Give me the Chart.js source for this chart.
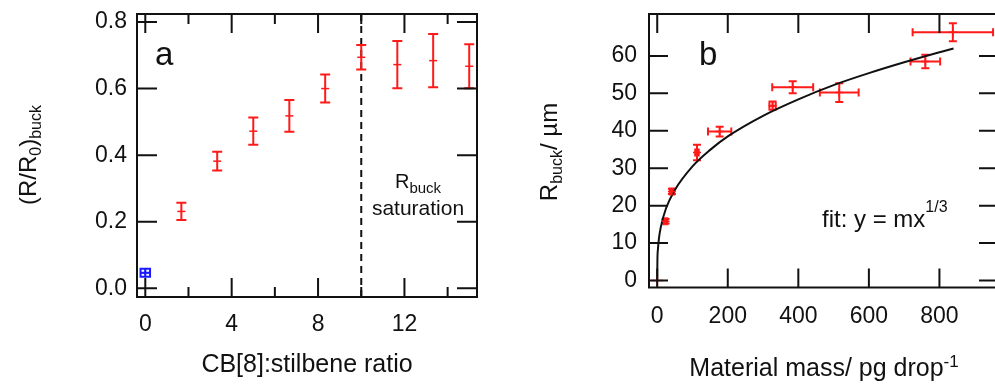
<!DOCTYPE html>
<html><head><meta charset="utf-8">
<script src="https://cdn.jsdelivr.net/npm/chart.js@4/dist/chart.umd.min.js"></script>
<style>
html,body{margin:0;padding:0;width:995px;height:385px;overflow:hidden;background:#fff;}
#wa{position:absolute;left:0;top:0;width:500px;height:385px;}
#wb{position:absolute;left:500px;top:0;width:510px;height:385px;}
</style></head><body>
<div id="wa"><canvas id="ca" width="500" height="385"></canvas></div>
<div id="wb"><canvas id="cb" width="510" height="385"></canvas></div>
<script>
// ---------- Panel a data ----------
const ratioX    = [1.67, 3.33, 5.0, 6.67, 8.33, 10.0, 11.67, 13.33, 15.0];
const ratioY    = [0.231, 0.382, 0.472, 0.518, 0.600, 0.694, 0.672, 0.684, 0.667];
const ratioYErr = [0.026, 0.028, 0.041, 0.048, 0.042, 0.037, 0.071, 0.080, 0.066];
const controlX    = [0];
const controlY    = [0.047];
const controlXErr = [0.22];
const controlYErr = [0.012];
const saturationRatio = 10;
const aXTicks      = [0, 4, 8, 12];
const aXMinorTicks = [2, 6, 10, 14];
const aYTicks      = [0, 0.2, 0.4, 0.6, 0.8];

// ---------- Panel b data ----------
const massX    = [0, 23.6, 41.7, 112.7, 177, 327, 384, 516, 760, 838];
const massY    = [0, 15.8, 23.8, 34.2, 39.8, 46.7, 51.6, 50.2, 58.5, 66.3];
const massXErr = [0, 5, 6, 5, 33, 9, 58, 55, 42, 114];
const massYErr = [0, 0.6, 0.7, 2.1, 1.3, 1.1, 1.6, 2.5, 1.8, 2.4];
const fitX = [0, 0.5, 2, 5, 10, 25, 50, 100, 150, 200, 300, 400, 500, 600, 700, 800, 840];
const fitY = [0, 5.2, 8.3, 11.3, 14.2, 19.3, 24.2, 30.5, 34.9, 38.5, 44.0, 48.4, 52.2, 55.4, 58.3, 61.0, 62.0];
const bXTicks = [0, 200, 400, 600, 800];
const bYTicks = [0, 10, 20, 30, 40, 50, 60];

// ---------- helpers ----------
const FONT = '"Liberation Sans", Arial, Helvetica, sans-serif';
const TXT = '#111';
const RED = '#ff1a1a';
const BLUE = '#1a1aff';
Chart.defaults.font.family = FONT;
Chart.defaults.color = TXT;

function richText(ctx, parts, x, y, opt) {
  opt = opt || {};
  ctx.save();
  ctx.translate(x, y);
  if (opt.rotate) ctx.rotate(-Math.PI / 2);
  let total = 0;
  parts.forEach(p => { ctx.font = p.size + 'px ' + FONT; p.w = ctx.measureText(p.t).width; total += p.w; });
  let cx = opt.align === 'left' ? 0 : -total / 2;
  ctx.textBaseline = 'alphabetic';
  ctx.textAlign = 'left';
  ctx.fillStyle = TXT;
  parts.forEach(p => { ctx.font = p.size + 'px ' + FONT; ctx.fillText(p.t, cx, p.dy || 0); cx += p.w; });
  ctx.restore();
}

function drawFrame(chart, s) {
  const {ctx, chartArea: a, scales} = chart;
  ctx.save();
  ctx.strokeStyle = TXT; ctx.lineWidth = 2; ctx.lineCap = 'butt';
  ctx.beginPath();
  const ln = (x1, y1, x2, y2) => { ctx.moveTo(x1, y1); ctx.lineTo(x2, y2); };
  s.xMajor.forEach(v => { const p = scales.x.getPixelForValue(v);
    ln(p, a.bottom, p, a.bottom - s.xLen); ln(p, a.top, p, a.top + s.xLen); });
  (s.xMinor || []).forEach(v => { const p = scales.x.getPixelForValue(v);
    ln(p, a.bottom, p, a.bottom - s.xMinLen); ln(p, a.top, p, a.top + s.xMinLen); });
  s.yMajor.forEach(v => { const p = scales.y.getPixelForValue(v);
    ln(a.left, p, a.left + s.yLen, p); ln(a.right, p, a.right - s.yLen, p); });
  ctx.stroke();
  ctx.strokeRect(a.left, a.top, a.right - a.left, a.bottom - a.top);
  ctx.restore();
}

function drawErrors(chart, dsIndex, color, cap) {
  const {ctx, chartArea: a, scales} = chart;
  const data = chart.data.datasets[dsIndex].data;
  ctx.save();
  ctx.beginPath(); ctx.rect(a.left, a.top, a.right - a.left, a.bottom - a.top); ctx.clip();
  ctx.strokeStyle = color; ctx.lineWidth = 2;
  ctx.beginPath();
  data.forEach(d => {
    const px = scales.x.getPixelForValue(d.x), py = scales.y.getPixelForValue(d.y);
    if (d.ye) {
      const y1 = scales.y.getPixelForValue(d.y - d.ye), y2 = scales.y.getPixelForValue(d.y + d.ye);
      ctx.moveTo(px, y1); ctx.lineTo(px, y2);
      ctx.moveTo(px - cap, y1); ctx.lineTo(px + cap, y1);
      ctx.moveTo(px - cap, y2); ctx.lineTo(px + cap, y2);
    }
    if (d.xe) {
      const x1 = scales.x.getPixelForValue(d.x - d.xe), x2 = scales.x.getPixelForValue(d.x + d.xe);
      ctx.moveTo(x1, py); ctx.lineTo(x2, py);
      ctx.moveTo(x1, py - cap); ctx.lineTo(x1, py + cap);
      ctx.moveTo(x2, py - cap); ctx.lineTo(x2, py + cap);
    }
  });
  ctx.stroke();
  ctx.restore();
}

const tickFont = {size: 23};
const noGrid = {display: false, drawTicks: false};
function fixBox(s, w, h) {
  if (w !== undefined) s.width = w;
  if (h !== undefined) s.height = h;
  s.paddingTop = 0; s.paddingBottom = 0; s.paddingLeft = 0; s.paddingRight = 0;
}

// ---------- Panel a ----------
const aPlugin = {
  id: 'decoA',
  beforeDatasetsDraw(chart) {
    const {ctx, chartArea: a, scales} = chart;
    const px = scales.x.getPixelForValue(saturationRatio);
    ctx.save(); ctx.strokeStyle = TXT; ctx.lineWidth = 2; ctx.setLineDash([7, 5]);
    ctx.beginPath(); ctx.moveTo(px, a.top); ctx.lineTo(px, a.bottom); ctx.stroke(); ctx.restore();
    drawErrors(chart, 0, BLUE, 5);
    drawErrors(chart, 1, RED, 5);
  },
  afterDraw(chart) {
    const ctx = chart.ctx;
    drawFrame(chart, {xMajor: aXTicks, xMinor: aXMinorTicks, xLen: 19, xMinLen: 10, yMajor: aYTicks, yLen: 20});
    richText(ctx, [{t: 'a', size: 33}], 155, 65, {align: 'left'});
    richText(ctx, [{t: 'R', size: 20}, {t: 'buck', size: 15, dy: 5}], 418, 188);
    richText(ctx, [{t: 'saturation', size: 21}], 418, 215);
    richText(ctx, [{t: 'CB[8]:stilbene ratio', size: 25}], 307, 372);
    richText(ctx, [{t: '(R/R', size: 24}, {t: '0', size: 16, dy: 5}, {t: ')', size: 24}, {t: 'buck', size: 16, dy: 5}], 36, 155, {rotate: true});
  }
};

new Chart(document.getElementById('ca'), {
  type: 'scatter',
  data: {
    datasets: [
      {
        data: controlX.map((x, i) => ({x, y: controlY[i], xe: controlXErr[i], ye: controlYErr[i]})),
        pointStyle: 'cross', pointRadius: 4, borderColor: BLUE, backgroundColor: BLUE, borderWidth: 1.5
      },
      {
        data: ratioX.map((x, i) => ({x, y: ratioY[i], ye: ratioYErr[i]})),
        pointStyle: 'line', pointRadius: 4, borderColor: RED, backgroundColor: RED, borderWidth: 1.5
      }
    ]
  },
  options: {
    responsive: false, animation: false, devicePixelRatio: 1,
    layout: {padding: {left: 0, right: 23, top: 14, bottom: 0}},
    plugins: {legend: {display: false}, tooltip: {enabled: false}},
    scales: {
      x: {
        type: 'linear', min: -0.384, max: 15.36,
        grid: noGrid, border: {display: false},
        afterBuildTicks: s => { s.ticks = aXTicks.map(v => ({value: v})); },
        afterFit: s => fixBox(s, undefined, 88),
        ticks: {font: tickFont, color: TXT, padding: 14, maxRotation: 0, autoSkip: false, callback: v => String(v)}
      },
      y: {
        type: 'linear', min: -0.026, max: 0.824,
        grid: noGrid, border: {display: false},
        afterBuildTicks: s => { s.ticks = aYTicks.map(v => ({value: v})); },
        afterFit: s => fixBox(s, 137, undefined),
        ticks: {font: tickFont, color: TXT, padding: 10, autoSkip: false, callback: v => v.toFixed(1)}
      }
    }
  },
  plugins: [aPlugin]
});

// ---------- Panel b ----------
const bPlugin = {
  id: 'decoB',
  beforeDatasetsDraw(chart) {
    drawErrors(chart, 0, RED, 4);
  },
  afterDraw(chart) {
    const ctx = chart.ctx;
    drawFrame(chart, {xMajor: bXTicks, xLen: 19, yMajor: bYTicks, yLen: 19});
    richText(ctx, [{t: 'b', size: 33}], 199, 65, {align: 'left'});
    richText(ctx, [{t: 'fit: y = mx', size: 24}, {t: '1/3', size: 16, dy: -15}], 322, 227, {align: 'left'});
    richText(ctx, [{t: 'Material mass/ pg drop', size: 25}, {t: '-1', size: 17, dy: -9}], 324, 376);
    richText(ctx, [{t: 'R', size: 24}, {t: 'buck', size: 16, dy: 5}, {t: '/ µm', size: 24}], 57, 152, {rotate: true});
  }
};

new Chart(document.getElementById('cb'), {
  type: 'scatter',
  data: {
    datasets: [
      {
        data: massX.map((x, i) => ({x, y: massY[i], xe: massXErr[i], ye: massYErr[i]})),
        pointStyle: 'cross', pointRadius: c => (c.dataIndex === 0 ? 6 : 4),
        borderColor: RED, backgroundColor: RED, borderWidth: 1.5
      },
      {
        data: fitX.map((x, i) => ({x, y: fitY[i]})),
        showLine: true, pointRadius: 0, borderColor: TXT, borderWidth: 2,
        cubicInterpolationMode: 'monotone', fill: false
      }
    ]
  },
  options: {
    responsive: false, animation: false, devicePixelRatio: 1,
    layout: {padding: {left: 0, right: 12, top: 14, bottom: 0}},
    plugins: {legend: {display: false}, tooltip: {enabled: false}},
    scales: {
      x: {
        type: 'linear', min: -23.3, max: 966,
        grid: noGrid, border: {display: false},
        afterBuildTicks: s => { s.ticks = bXTicks.map(v => ({value: v})); },
        afterFit: s => fixBox(s, undefined, 97.5),
        ticks: {font: tickFont, color: TXT, padding: 15, maxRotation: 0, autoSkip: false, callback: v => String(v)}
      },
      y: {
        type: 'linear', min: -1.87, max: 71.2,
        grid: noGrid, border: {display: false},
        afterBuildTicks: s => { s.ticks = bYTicks.map(v => ({value: v})); },
        afterFit: s => fixBox(s, 149, undefined),
        ticks: {font: tickFont, color: TXT, padding: 12, autoSkip: false, callback: v => String(v)}
      }
    }
  },
  plugins: [bPlugin]
});
</script>
</body></html>
